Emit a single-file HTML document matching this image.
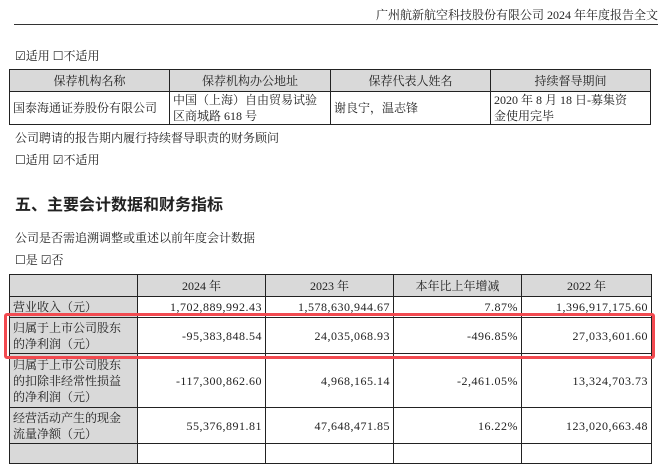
<!DOCTYPE html>
<html><head><meta charset="utf-8"><style>
body{margin:0;width:667px;height:447px;background:#fff;overflow:hidden;position:relative;font-family:"Liberation Serif","Noto Serif CJK SC",serif;font-size:12px;color:#222}
.a{position:absolute;white-space:nowrap}
table{position:absolute;border-collapse:collapse;table-layout:fixed}
td{border:1px solid #222;padding:0 3px;line-height:16px;font-size:12px}
.g{background:#d9d9d9}
.c{text-align:center}
.r{text-align:right;letter-spacing:0.5px}
.w{padding-right:12px}
</style></head><body>
<div class="a" style="left:376px;top:6px;font-size:12px">广州航新航空科技股份有限公司 2024 年年度报告全文</div>
<div class="a" style="left:14px;top:24px;width:644px;height:1px;background:#333"></div>
<div class="a" style="left:15px;top:47px">☑适用 ☐不适用</div>
<table style="left:9px;top:69px;width:641px">
<colgroup><col style="width:160px"><col style="width:161px"><col style="width:160px"><col style="width:160px"></colgroup>
<tr style="height:22px" class="g"><td class="c">保荐机构名称</td><td class="c">保荐机构办公地址</td><td class="c">保荐代表人姓名</td><td class="c">持续督导期间</td></tr>
<tr style="height:32px"><td>国泰海通证券股份有限公司</td><td>中国（上海）自由贸易试验区商城路 618 号</td><td>谢良宁，温志锋</td><td style="padding-right:20px">2020 年 8 月 18 日-募集资金使用完毕</td></tr>
</table>
<div class="a" style="left:15px;top:129px">公司聘请的报告期内履行持续督导职责的财务顾问</div>
<div class="a" style="left:15px;top:151px">☐适用 ☑不适用</div>
<div class="a" style="left:15px;top:191px;font-size:16px;font-weight:bold;font-family:'Noto Sans CJK SC',sans-serif">五、主要会计数据和财务指标</div>
<div class="a" style="left:15px;top:229px">公司是否需追溯调整或重述以前年度会计数据</div>
<div class="a" style="left:15px;top:251px">☐是 ☑否</div>
<table style="left:9px;top:274px;width:642px">
<colgroup><col style="width:128px"><col style="width:128px"><col style="width:128px"><col style="width:128px"><col style="width:130px"></colgroup>
<tr style="height:22px" class="g"><td></td><td class="c">2024 年</td><td class="c">2023 年</td><td class="c">本年比上年增减</td><td class="c">2022 年</td></tr>
<tr style="height:21px"><td class="g">营业收入（元）</td><td class="r">1,702,889,992.43</td><td class="r">1,578,630,944.67</td><td class="r">7.87%</td><td class="r">1,396,917,175.60</td></tr>
<tr style="height:36px"><td class="g w">归属于上市公司股东的净利润（元）</td><td class="r">-95,383,848.54</td><td class="r">24,035,068.93</td><td class="r">-496.85%</td><td class="r">27,033,601.60</td></tr>
<tr style="height:54px"><td class="g w">归属于上市公司股东的扣除非经常性损益的净利润（元）</td><td class="r">-117,300,862.60</td><td class="r">4,968,165.14</td><td class="r">-2,461.05%</td><td class="r">13,324,703.73</td></tr>
<tr style="height:36px"><td class="g w">经营活动产生的现金流量净额（元）</td><td class="r">55,376,891.81</td><td class="r">47,648,471.85</td><td class="r">16.22%</td><td class="r">123,020,663.48</td></tr>
<tr style="height:20px"><td class="g"></td><td></td><td></td><td></td><td></td></tr>
</table>
<div class="a" style="left:4px;top:313px;width:645px;height:40px;border:3px solid #f24a50;border-radius:3px"></div>
</body></html>
